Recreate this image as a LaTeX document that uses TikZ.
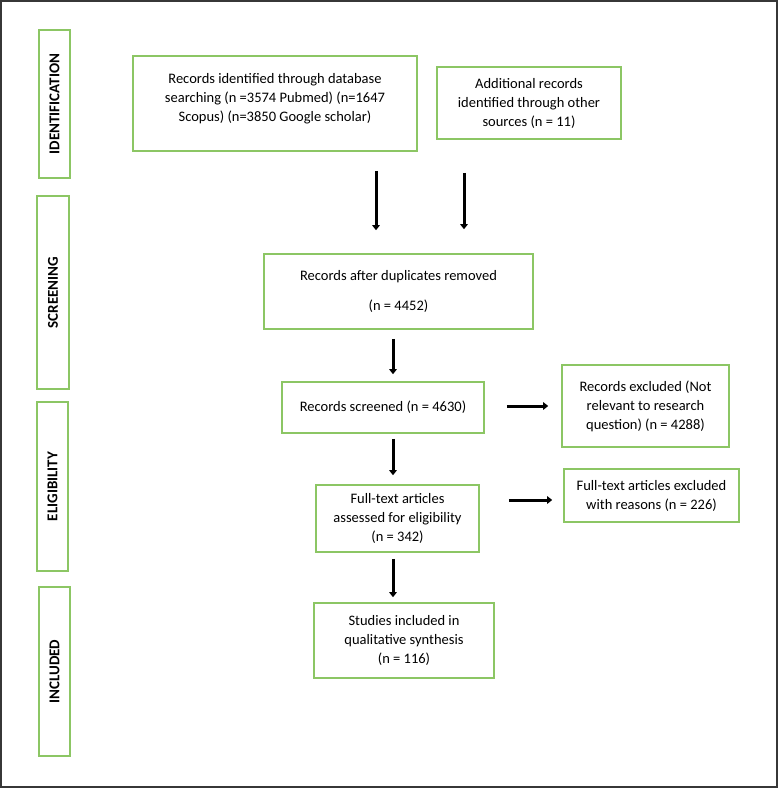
\documentclass[tikz,border=0pt]{standalone}
\usepackage{fontspec}
\setmainfont{Carlito}
\usetikzlibrary{arrows.meta,positioning}
\definecolor{boxgreen}{RGB}{140,198,100}
\definecolor{framegray}{RGB}{55,55,55}

\begin{document}
\begin{tikzpicture}[
x=1pt, y=-1pt,
font=\fontsize{14.5}{19}\selectfont,
stage/.style={draw=boxgreen, line width=1.6pt, rotate=90, inner sep=0pt, minimum height=31pt, font=\fontsize{15}{17}\selectfont\bfseries},
record/.style={draw=boxgreen, line width=1.6pt, align=center, inner sep=0pt},
flow/.style={-{Triangle[length=5pt,width=7.5pt]}, line width=3pt}
]
    % Page and frame
    \useasboundingbox (0,0) rectangle (778,788);
    \draw[framegray, line width=2pt] (1,1) rectangle (777,787);

    % Stage labels
    \node[stage, minimum width=148pt] (ident) at (54.5,104) {IDENTIFICATION};
    \node[stage, minimum width=193pt, minimum height=32pt] (screen) at (53,292.5) {SCREENING};
    \node[stage, minimum width=169pt] (eligib) at (52.5,486.5) {ELIGIBILITY};
    \node[stage, minimum width=169pt] (includ) at (54.5,671.5) {INCLUDED};

    % Records
    \node[record, minimum width=284pt, minimum height=95pt] (db) at (275,103.5)
        {Records identified through database\\searching (n =3574 Pubmed) (n=1647\\Scopus) (n=3850 Google scholar)\\[-6pt]};
    \node[record, minimum width=184pt, minimum height=72pt] (other) at (529,103)
        {Additional records\\identified through other\\sources (n = 11)};
    \node[record, minimum width=269pt, minimum height=75pt] (dup) at (398.5,291.5)
        {Records after duplicates removed\\[11pt](n = 4452)};
    \node[record, minimum width=202pt, minimum height=51pt] (screened) at (383,407.5)
        {Records screened (n = 4630)};
    \node[record, minimum width=167pt, minimum height=82pt] (notrel) at (645.5,406)
        {Records excluded (Not\\relevant to research\\question) (n = 4288)};
    \node[record, minimum width=163pt, minimum height=67pt] (fulltext) at (397.5,518.5)
        {Full-text articles\\assessed for eligibility\\(n = 342)};
    \node[record, minimum width=175pt, minimum height=53pt] (reasons) at (651.5,495.5)
        {Full-text articles excluded\\with reasons (n = 226)};
    \node[record, minimum width=180pt, minimum height=75pt] (studies) at (404,640.5)
        {Studies included in\\qualitative synthesis\\(n = 116)};

    % Arrow columns and rows
    \coordinate (dbcol) at (376,0);
    \coordinate (othercol) at (464,0);
    \coordinate (maincol) at (393,0);
    \coordinate (nrrow) at (0,406);
    \coordinate (exrow) at (0,500);

    \draw[flow, shorten <=19pt, shorten >=23pt] (db.south -| dbcol) -- (dup.north -| dbcol);
    \draw[flow, shorten <=33pt, shorten >=24pt] (other.south -| othercol) -- (dup.north -| othercol);
    \draw[flow, shorten <=9pt, shorten >=7pt] (dup.south -| maincol) -- (screened.north -| maincol);
    \draw[flow, shorten <=5pt, shorten >=9pt] (screened.south -| maincol) -- (fulltext.north -| maincol);
    \draw[flow, shorten <=6pt, shorten >=5pt] (fulltext.south -| maincol) -- (studies.north -| maincol);
    \draw[flow, shorten <=22pt, shorten >=13pt] (screened.east |- nrrow) -- (notrel.west |- nrrow);
    \draw[flow, shorten <=29pt, shorten >=11pt] (fulltext.east |- exrow) -- (reasons.west |- exrow);

\end{tikzpicture}
\end{document}
